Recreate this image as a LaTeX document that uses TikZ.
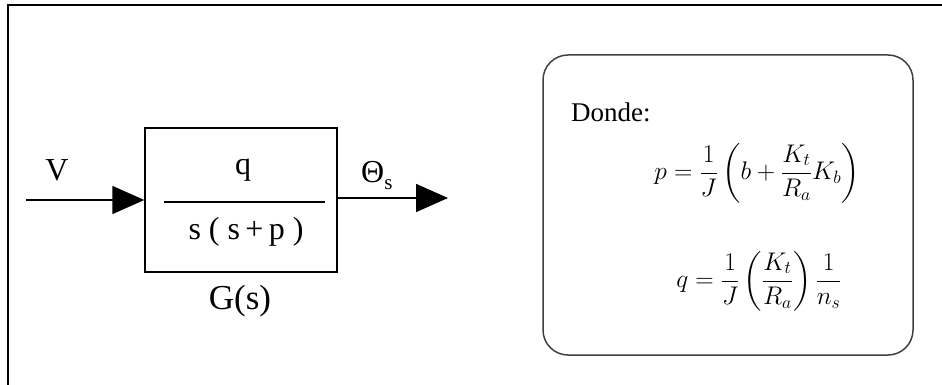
\RequirePackage{fix-cm}
\documentclass[tikz,border=0pt]{standalone}
\usepackage{amsmath}
\usepackage{fontspec}
\setmainfont{Liberation Serif}
\usetikzlibrary{arrows.meta}
\tikzset{
  lbl/.style={inner sep=0pt, font=\fontsize{32}{36}\selectfont},
  eqn/.style={inner sep=0pt, font=\fontsize{25.5}{29}\selectfont},
  sig/.style={line width=1.5pt, -{Triangle[length=32pt,width=28pt]}},
  blockbox/.style={draw, line width=1.5pt, minimum width=192pt, minimum height=144pt, inner sep=0pt},
  notebox/.style={draw=black!75, line width=1.5pt, rounded corners=25pt, minimum width=370pt, minimum height=300pt, inner sep=0pt},
}
\begin{document}
\begin{tikzpicture}[x=1pt,y=-1pt]
\useasboundingbox (0,0) rectangle (942,385);
% frame (top and left edges visible)
\coordinate (fTL) at (8,5);
\coordinate (fTR) at (945,5);
\coordinate (fBL) at (8,390);
\draw[line width=2.2pt] (fTR) -- (fTL) -- (fBL);
% block
\node[blockbox] (G) at (241,200) {};
\node[lbl] (num) at (243,170) {q};
\node[lbl] (den) at (246,232) {s ( s\,+\,p )};
\coordinate (fl) at (164,202);
\coordinate (fr) at (325,202);
\draw[line width=1.3pt] (fl) -- (fr);
\node[lbl, font=\fontsize{35}{38}\selectfont] (Gs) at (240,301) {G(s)};
% signals
\coordinate (in) at (26,200);
\coordinate (out) at (448,198);
\draw[sig] (in) -- (G.west);
\draw[sig] (G.east |- out) -- (out);
\node[lbl] (V) at (57,170) {V};
\node[lbl, anchor=base west] (Th) at (361,182) {Θ\raisebox{-7pt}{\fontsize{21}{21}\selectfont s}};
% note box
\node[notebox] (R) at (728,205) {};
\node[lbl, anchor=west, font=\fontsize{27}{30}\selectfont] (D) at (571,112) {Donde:};
\node[eqn] (pe) at (757,173) {$\displaystyle p=\frac{1}{J}\left(b+\frac{K_t}{R_a}K_b\right)$};
\node[eqn] (qe) at (759,281) {$\displaystyle q=\frac{1}{J}\left(\frac{K_t}{R_a}\right)\frac{1}{n_s}$};
\end{tikzpicture}
\end{document}
